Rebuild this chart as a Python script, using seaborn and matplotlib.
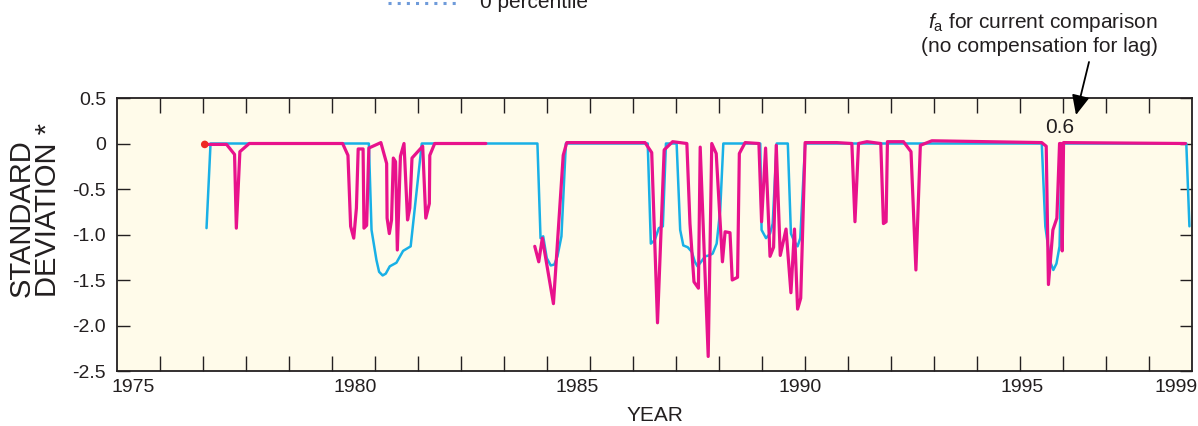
import numpy as np
import pandas as pd
import matplotlib
matplotlib.use("Agg")
import matplotlib.pyplot as plt
from matplotlib.lines import Line2D
import seaborn as sns

# ---------------- data ----------------
cyan_year = [1976.66, 1976.75, 1980.31, 1980.37, 1980.48, 1980.54, 1980.62, 1980.69,
             1980.78, 1980.93, 1981.08, 1981.25, 1981.50, 1984.10, 1984.17, 1984.23,
             1984.31, 1984.40, 1984.48, 1984.55, 1984.64, 1984.74, 1986.58, 1986.65,
             1986.74, 1986.83, 1986.92, 1986.99, 1987.23, 1987.31, 1987.38, 1987.48,
             1987.57, 1987.64, 1987.70, 1987.78, 1987.87, 1987.96, 1988.04, 1988.13,
             1988.21, 1988.28, 1989.11, 1989.14, 1989.24, 1989.33, 1989.39, 1989.48,
             1989.73, 1989.80, 1989.88, 1989.95, 1990.01, 1990.12, 1995.44, 1995.52,
             1995.63, 1995.70, 1995.77, 1995.84, 1995.89, 1998.69, 1998.76]
cyan_val = [-0.93, 0.00, 0.00, -0.95, -1.28, -1.41, -1.45, -1.43,
            -1.35, -1.31, -1.18, -1.13, 0.00, 0.00, -1.04, -1.02,
            -1.26, -1.34, -1.33, -1.24, -1.02, 0.00, 0.00, -1.10,
            -1.06, -0.93, -0.91, 0.00, 0.00, -0.95, -1.12, -1.14,
            -1.19, -1.30, -1.35, -1.30, -1.24, -1.23, -1.21, -1.10,
            -0.73, 0.00, 0.00, -0.95, -1.04, -0.99, -0.88, 0.00,
            0.00, -0.99, -1.08, -1.13, -1.04, 0.00, 0.00, -0.91,
            -1.30, -1.39, -1.32, -1.13, 0.00, 0.00, -0.91]

mag1_year = [1976.62, 1977.11, 1977.29, 1977.33, 1977.41, 1977.62, 1979.72, 1979.84,
             1979.90, 1979.97, 1980.03, 1980.07, 1980.18, 1980.20, 1980.26, 1980.31,
             1980.58, 1980.71, 1980.72, 1980.77, 1980.82, 1980.86, 1980.91, 1980.95,
             1981.02, 1981.10, 1981.18, 1981.23, 1981.28, 1981.52, 1981.59, 1981.67,
             1981.68, 1981.79, 1982.94]
mag1_val = [-0.01, -0.01, -0.12, -0.93, -0.09, 0.00, 0.00, -0.13,
            -0.91, -1.04, -0.71, -0.06, -0.06, -0.93, -0.90, -0.05,
            0.01, -0.22, -0.82, -0.99, -0.84, -0.16, -0.20, -1.17,
            -0.14, 0.00, -0.84, -0.71, -0.16, -0.03, -0.82, -0.66,
            -0.13, 0.00, 0.00]

mag2_year = [1984.04, 1984.13, 1984.21, 1984.46, 1984.68, 1984.76, 1986.52, 1986.67,
             1986.80, 1986.95, 1987.14, 1987.46, 1987.53, 1987.62, 1987.72, 1987.76,
             1987.94, 1988.02, 1988.12, 1988.26, 1988.32, 1988.43, 1988.48, 1988.60,
             1988.64, 1988.77, 1989.08, 1989.14, 1989.23, 1989.33, 1989.41, 1989.47,
             1989.56, 1989.69, 1989.80, 1989.88, 1989.95, 1990.02, 1990.12, 1990.83,
             1991.17, 1991.24, 1991.32, 1991.51, 1991.82, 1991.88, 1991.94, 1991.97,
             1992.33, 1992.50, 1992.61, 1992.71, 1992.97, 1995.44, 1995.54, 1995.59,
             1995.69, 1995.78, 1995.84, 1995.87, 1995.90, 1995.93, 1998.67]
mag2_val = [-1.13, -1.30, -1.04, -1.76, -0.13, 0.01, 0.01, -0.10,
            -1.97, -0.07, 0.02, 0.00, -0.88, -1.52, -1.59, -0.04,
            -2.34, 0.00, -0.11, -1.30, -0.97, -0.98, -1.50, -1.47,
            -0.11, 0.01, 0.00, -0.86, -0.05, -1.24, -1.14, -0.02,
            -1.23, -0.94, -1.64, -0.94, -1.82, -1.70, 0.01, 0.01,
            0.00, -0.86, 0.00, 0.02, 0.00, -0.88, -0.86, 0.02,
            0.02, -0.09, -1.39, -0.02, 0.03, 0.01, -0.03, -1.55,
            -0.95, -0.82, 0.00, 0.00, -1.18, 0.01, 0.00]

start_year = [1976.62]
start_val = [-0.01]

xtick_pos = [1975, 1980, 1985, 1990, 1995, 1998.45]
xtick_labels = ["1975", "1980", "1985", "1990", "1995", "1999"]
ytick_pos = [0.5, 0, -0.5, -1.0, -1.5, -2.0, -2.5]
ytick_labels = ["0.5", "0", "-0.5", "-1.0", "-1.5", "-2.0", "-2.5"]

# ---------------- styling ----------------
sns.set_theme(style="white")
plt.rcParams["font.family"] = ["Liberation Sans", "DejaVu Sans"]
plt.rcParams["axes.unicode_minus"] = False
plt.rcParams["mathtext.fontset"] = "custom"
plt.rcParams["mathtext.rm"] = "Liberation Sans"
plt.rcParams["mathtext.it"] = "Liberation Sans:italic"

CYAN = "#19B0E6"
MAGENTA = "#E8128C"
BG = "#FFFBEA"
INK = "#231F20"

W, H = 1198, 426
fig = plt.figure(figsize=(W / 100, H / 100), dpi=100)
ax = fig.add_axes([117 / W, 1 - 371 / H, (1192 - 117) / W, (371 - 98) / H])
ax.set_facecolor(BG)

df_c = pd.DataFrame({"year": cyan_year, "val": cyan_val})
df_m = pd.concat([
    pd.DataFrame({"year": mag1_year, "val": mag1_val, "seg": 0}),
    pd.DataFrame({"year": mag2_year, "val": mag2_val, "seg": 1}),
])

sns.lineplot(data=df_c, x="year", y="val", color=CYAN, lw=1.8, sort=False,
             estimator=None, ax=ax, zorder=2)
sns.lineplot(data=df_m, x="year", y="val", units="seg", color=MAGENTA, lw=2.3,
             sort=False, estimator=None, ax=ax, zorder=3)
sns.scatterplot(x=start_year, y=start_val, color="#EE2A24", s=30, edgecolor="none",
                ax=ax, zorder=4)

xmin, xmax = 1974.647, 1998.818
ax.set_xlim(xmin, xmax)
ax.set_ylim(-2.5, 0.5)

ax.set_xticks(xtick_pos)
ax.set_xticklabels(xtick_labels)
ax.set_xticks(np.linspace(xmin, xmax, 26)[1:-1], minor=True)
ax.set_yticks(ytick_pos)
ax.set_yticklabels(ytick_labels)

ax.tick_params(axis="x", which="major", length=0, pad=6, labelsize=14, colors=INK)
ax.tick_params(axis="x", which="minor", direction="in", top=True, bottom=True,
               length=11, width=1.0, color=INK)
ax.tick_params(axis="y", which="major", direction="in", left=True, right=True,
               length=9, width=1.0, labelsize=14, colors=INK, pad=8)
for s in ax.spines.values():
    s.set_color(INK)
    s.set_linewidth(1.3)

ax.set_xlabel("YEAR", fontsize=15, color=INK, labelpad=7)
ax.set_ylabel("")

fig.text(35 / W, 1 - 297 / H, "STANDARD\nDEVIATION *", rotation=90, ha="center",
         va="bottom", multialignment="left", fontsize=21, color=INK, linespacing=0.95)

# annotation
fig.text(1043 / W, 1 - 28 / H, r"$\mathit{f}_{\mathrm{a}}$ for current comparison",
         ha="center", va="baseline", fontsize=15, color=INK)
fig.text(1039 / W, 1 - 52 / H, "(no compensation for lag)",
         ha="center", va="baseline", fontsize=15, color=INK)
fig.text(1060 / W, 1 - 133 / H, "0.6", ha="center", va="baseline", fontsize=15, color=INK)
ax.annotate("", xy=(1076 / W, 1 - 115 / H), xycoords="figure fraction",
            xytext=(1089 / W, 1 - 62 / H), textcoords="figure fraction",
            arrowprops=dict(arrowstyle="-|>,head_length=1.0,head_width=0.45",
                            color="black", lw=1.3, shrinkA=0, shrinkB=0))

# partial legend at the top (cut by the figure edge, as in the reference)
fig.add_artist(Line2D([388 / W, 456 / W], [1 - 3 / H, 1 - 3 / H], transform=fig.transFigure,
                      color="#6F9BDA", lw=2.2, linestyle=(0, (1, 2))))
fig.text(480 / W, 1 - 8 / H, "0 percentile", ha="left", va="baseline", fontsize=15,
         color=INK)

fig.savefig("out.png", dpi=100)
